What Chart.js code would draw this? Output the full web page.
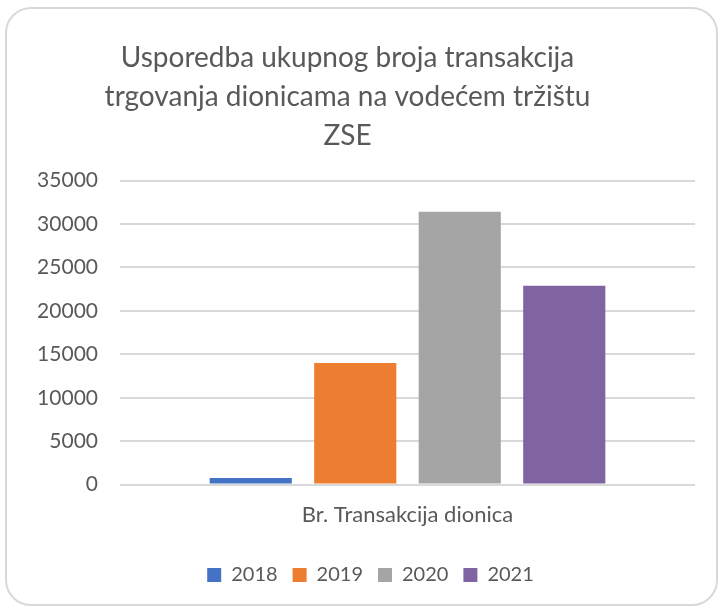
<!DOCTYPE html>
<html>
<head>
<meta charset="utf-8">
<script src="https://cdn.jsdelivr.net/npm/chart.js@4/dist/chart.umd.min.js"></script>
<style>
  html, body { margin: 0; padding: 0; background: #fff; }
  #wrap { position: relative; width: 720px; height: 610px; }
  #frame {
    position: absolute; left: 5px; top: 7px; width: 709px; height: 595px;
    border: 2px solid #d9d9d9; border-radius: 26px;
  }
  #js-chart { position: absolute; left: 0; top: 0; }
</style>
</head>
<body>
<div id="wrap">
  <div id="frame"></div>
  <canvas id="js-chart" width="720" height="610"></canvas>
</div>
<script>
// podaci s grafa
const CATEGORIES = ['Br. Transakcija dionica'];
const YEARS = ['2018', '2019', '2020', '2021'];
const VALUES = [750, 14000, 31400, 22900];
const COLORS = ['#4472C4', '#ED7D31', '#A5A5A5', '#8064A2'];
const TITLE = ['Usporedba ukupnog broja transakcija', 'trgovanja dionicama na vodećem tržištu', 'ZSE'];

const TEXT = '#595959';
const FONT = 'Lato, "Open Sans", sans-serif';

// legenda je u originalu malo pomaknuta udesno i dolje
const legendShift = {
  id: 'legendShift',
  afterLayout(chart) {
    chart.legend.left += 23;
    chart.legend.right += 23;
    chart.legend.top += 5;
    chart.legend.bottom += 5;
  },
};

const ctx = document.querySelector('#js-chart').getContext('2d');

const chart = new Chart(ctx, {
  type: 'bar',
  data: {
    labels: CATEGORIES,
    datasets: YEARS.map((year, i) => ({
      label: year,
      data: [VALUES[i]],
      backgroundColor: COLORS[i],
      borderWidth: 0,
      categoryPercentage: 0.727,
      barPercentage: 0.786,
    })),
  },
  plugins: [legendShift],
  options: {
    responsive: false,
    animation: false,
    layout: { padding: { top: 38, right: 25, bottom: 20, left: 0 } },
    plugins: {
      title: {
        display: true,
        text: TITLE,
        color: TEXT,
        font: { family: FONT, size: 28, weight: 'normal', lineHeight: 1.4 },
        padding: { top: 0, bottom: 25 },
      },
      legend: {
        position: 'bottom',
        labels: {
          color: TEXT,
          font: { family: FONT, size: 20 },
          boxWidth: 14,
          boxHeight: 14,
          padding: 15,
        },
      },
      tooltip: { enabled: false },
    },
    scales: {
      x: {
        grid: { display: false, drawTicks: false },
        border: { display: false },
        ticks: { color: TEXT, font: { family: FONT, size: 22 }, padding: 17 },
      },
      y: {
        min: 0,
        max: 35000,
        afterFit: scale => { scale.width = 120; },
        grid: { color: '#d9d9d9', lineWidth: 2, drawTicks: false },
        border: { display: false },
        ticks: {
          stepSize: 5000,
          color: TEXT,
          font: { family: FONT, size: 21 },
          padding: 22,
          callback: value => String(value),
        },
      },
    },
  },
});
</script>
</body>
</html>
